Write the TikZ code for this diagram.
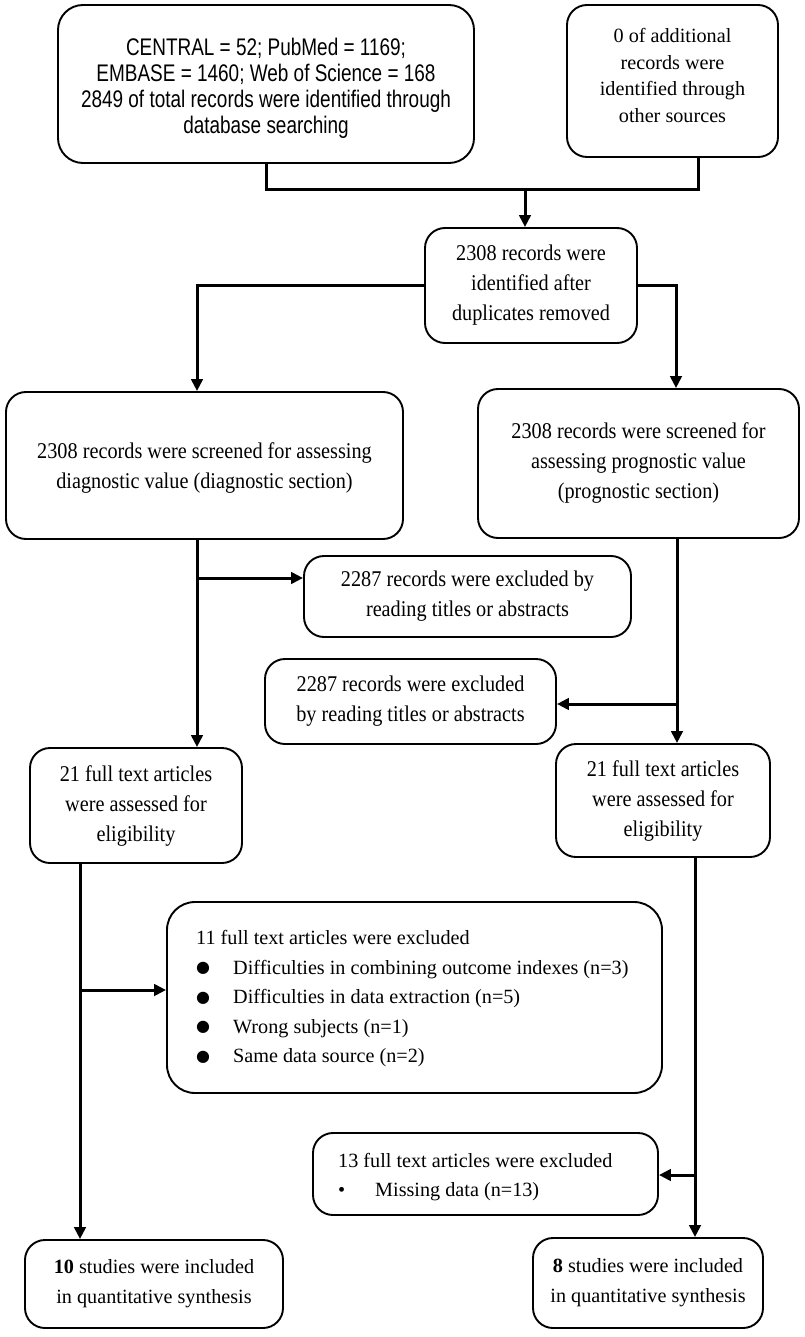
\documentclass[tikz,border=0pt]{standalone}
\usepackage{fontspec}
\setmainfont{Liberation Serif}
\newfontfamily\narrowsans[FakeStretch=0.79]{Liberation Sans}
\newfontfamily\narrowserif[FakeStretch=0.9]{Liberation Serif}
\newfontfamily\bulfont{DejaVu Sans}
\usetikzlibrary{arrows.meta,calc}
\newcommand\bigbul{\makebox[37pt][l]{\raisebox{1.5pt}{\bulfont\fontsize{16}{16}\selectfont ●}}}
\newcommand\smallbul{\makebox[37pt][l]{\textbullet}}
\begin{document}
\begin{tikzpicture}[x=1pt,y=-1pt,
  box/.style={draw, line width=1.9pt, rounded corners=20pt, inner sep=0pt, align=center,
    font=\fontsize{20.2}{30}\selectfont},
  nbox/.style={box, font=\narrowserif\fontsize{22.5}{30}\selectfont},
  conn/.style={line width=3pt},
  arr/.style={conn, -{Triangle[length=12pt,width=11.5pt]}},
  txt/.style={inner sep=0pt, align=left, anchor=west, font=\fontsize{20.2}{29.5}\selectfont},
]
\useasboundingbox (0,0) rectangle (804,1337);

% boxes
\node[box, rounded corners=25pt, minimum width=416pt, minimum height=158pt,
  font=\narrowsans\fontsize{24}{26}\selectfont] (A) at (266,84)
  {\rule{0pt}{26pt}CENTRAL = 52; PubMed = 1169;\\EMBASE = 1460; Web of Science = 168\\2849 of total records were identified through\\database searching};
\node[box, minimum width=211pt, minimum height=152pt, font=\fontsize{20.2}{26.5}\selectfont] (B) at (672.5,81)
  {0 of additional\\records were\\identified through\\other sources\rule[-11pt]{0pt}{11pt}};
\node[nbox, minimum width=212pt, minimum height=115pt] (C) at (531,285.5)
  {2308 records were\\identified after\\duplicates removed};
\node[nbox, minimum width=397pt, minimum height=147pt] (D) at (204.5,465.5)
  {\rule{0pt}{20pt}2308 records were screened for assessing\\diagnostic value (diagnostic section)};
\node[nbox, minimum width=321pt, minimum height=149pt] (E) at (638.5,463.5)
  {2308 records were screened for\\assessing prognostic value\\(prognostic section)};
\node[nbox, minimum width=327pt, minimum height=81pt] (F) at (467.5,596.5)
  {2287 records were excluded by\\reading titles or abstracts};
\node[nbox, minimum width=291pt, minimum height=85pt] (F2) at (410.5,701.5)
  {2287 records were excluded\\by reading titles or abstracts};
\node[nbox, minimum width=212pt, minimum height=115pt] (G) at (136,805.5)
  {21 full text articles\\were assessed for\\eligibility};
\node[nbox, minimum width=214pt, minimum height=113pt] (H) at (663,800.5)
  {21 full text articles\\were assessed for\\eligibility};
\node[box, rounded corners=28pt, minimum width=495pt, minimum height=191pt] (J) at (414.5,997.5) {};
\node[txt] (Jt) at (196,999)
  {11 full text articles were excluded\\
   \bigbul Difficulties in combining outcome indexes (n=3)\\
   \bigbul Difficulties in data extraction (n=5)\\
   \bigbul Wrong subjects (n=1)\\
   \bigbul Same data source (n=2)};
\node[box, minimum width=345pt, minimum height=82pt] (K) at (485.5,1174) {};
\node[txt] (Kt) at (338,1177)
  {13 full text articles were excluded\\
   \smallbul Missing data (n=13)};
\node[box, minimum width=258pt, minimum height=88pt] (I) at (154,1284)
  {\textbf{10} studies were included\\in quantitative synthesis};
\node[box, minimum width=230pt, minimum height=90pt] (L) at (648,1283)
  {\textbf{8} studies were included\\in quantitative synthesis};

% connectors
\coordinate (jA) at (266,190);
\coordinate (jB) at (698,190);
\coordinate (jC) at (525,190);
\draw[conn] (A.south) -- (jA) -- (jB) -- (jB |- B.south);
\draw[arr] (jC) -- (jC |- C.north);

\coordinate (dx) at (197,0);
\coordinate (ex) at (676,0);
\draw[arr] (C.west) -| (dx |- D.north);
\draw[arr] (C.east) -| (ex |- E.north);

\draw[arr] (dx |- D.south) -- (dx |- G.north);
\coordinate (fb) at (197,578);
\draw[arr] (fb) -- (F.west |- fb);

\coordinate (hx) at (677,0);
\draw[arr] (hx |- E.south) -- (hx |- H.north);
\coordinate (f2b) at (677,704);
\draw[arr] (f2b) -- (F2.east |- f2b);

\coordinate (ix) at (80,0);
\draw[arr] (ix |- G.south) -- (ix |- I.north);
\coordinate (jb) at (80,990);
\draw[arr] (jb) -- (J.west |- jb);

\coordinate (lx) at (695,0);
\draw[arr] (lx |- H.south) -- (lx |- L.north);
\coordinate (kb) at (695,1175);
\draw[arr] (kb) -- (K.east |- kb);
\end{tikzpicture}
\end{document}
